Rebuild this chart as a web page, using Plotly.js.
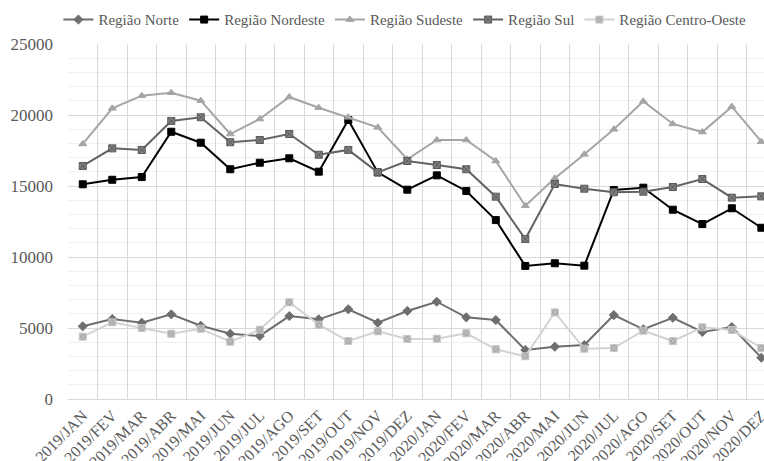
<!DOCTYPE html>
<html>
<head>
<meta charset="utf-8">
<script src="https://cdn.plot.ly/plotly-3.0.1.min.js"></script>
<style>html,body{margin:0;padding:0;background:#fff;}#chart{width:764px;height:461px;}</style>
</head>
<body>
<div id="chart"></div>
<script>
const months = ["2019/JAN","2019/FEV","2019/MAR","2019/ABR","2019/MAI","2019/JUN","2019/JUL","2019/AGO","2019/SET","2019/OUT","2019/NOV","2019/DEZ",
                "2020/JAN","2020/FEV","2020/MAR","2020/ABR","2020/MAI","2020/JUN","2020/JUL","2020/AGO","2020/SET","2020/OUT","2020/NOV","2020/DEZ"];
const norte = [5120,5630,5370,5960,5160,4600,4440,5840,5610,6320,5370,6200,
               6850,5750,5560,3450,3680,3800,5910,4910,5720,4720,5070,2910];
const nordeste = [15120,15440,15630,18820,18050,16180,16640,16950,16010,19650,15960,14740,
                  15750,14650,12600,9370,9560,9390,14720,14880,13330,12320,13430,12060];
const sudeste = [17960,20470,21360,21570,21010,18660,19720,21270,20510,19840,19130,16880,
                 18240,18240,16760,13610,15540,17230,18990,20960,19370,18800,20590,18120];
const sul = [16410,17650,17540,19580,19840,18080,18240,18660,17200,17540,15960,16760,
             16480,16180,14250,11270,15140,14810,14560,14600,14930,15490,14180,14270];
const centroOeste = [4390,5400,5000,4600,4950,4040,4880,6810,5230,4080,4770,4230,
                     4250,4630,3500,3010,6100,3540,3590,4810,4080,5050,4860,3590];

const F = "'Liberation Serif', serif";
function tr(name, y, lineColor, sym, mColor, mLine){
  return {type:"scatter", mode:"lines+markers", name:name, x:months, y:y, cliponaxis:false,
    line:{color:lineColor, width:2},
    marker:{symbol:sym, size:7, color:mColor, line:{color:mLine, width:1}}};
}
const data = [
  tr("Região Norte", norte, "#6e6e6e", "diamond", "#6e6e6e", "#6e6e6e"),
  tr("Região Nordeste", nordeste, "#000000", "square", "#000000", "#000000"),
  tr("Região Sudeste", sudeste, "#a5a5a5", "triangle-up", "#a5a5a5", "#a5a5a5"),
  tr("Região Sul", sul, "#636363", "square-x", "#808080", "#5a5a5a"),
  tr("Região Centro-Oeste", centroOeste, "#d3d3d3", "square-x", "#a8a8a8", "#c8c8c8")
];
const layout = {
  width:764, height:461,
  margin:{l:68, r:0, t:44, b:62},
  paper_bgcolor:"#fff", plot_bgcolor:"#fff",
  font:{family:F, color:"#595959", size:16},
  showlegend:true,
  legend:{orientation:"h", xref:"container", x:0.53, xanchor:"center", yref:"container", y:0.957, yanchor:"middle",
          font:{family:F, size:15, color:"#595959"}, itemwidth:30, traceorder:"normal"},
  xaxis:{type:"category", range:[-0.5, 23.09], tickson:"boundaries", ticks:"",
         showgrid:true, gridcolor:"#d9d9d9", gridwidth:1,
         showline:true, linecolor:"#d9d9d9", linewidth:1,
         tickangle:-45, tickfont:{family:F, size:16, color:"#595959"}, zeroline:false, fixedrange:true},
  yaxis:{range:[0,25000], dtick:5000, tick0:0, tickformat:"d", showgrid:true, gridcolor:"#d9d9d9", gridwidth:1,
         minor:{dtick:1000, showgrid:true, gridcolor:"#f0f0f0", gridwidth:1},
         zeroline:false, showline:false, ticks:"", ticklabelstandoff:14,
         tickfont:{family:F, size:17, color:"#595959"}, fixedrange:true}
};
Plotly.newPlot("chart", data, layout, {displayModeBar:false, staticPlot:true});
</script>
</body>
</html>
